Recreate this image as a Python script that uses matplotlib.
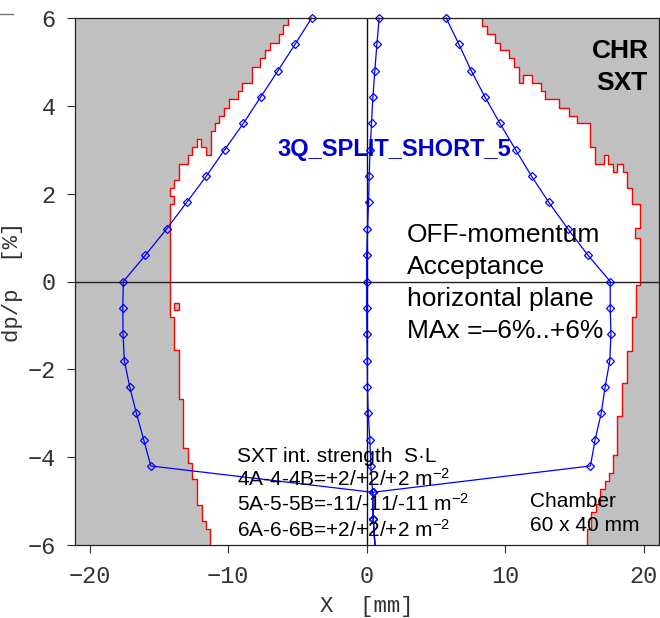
import matplotlib
matplotlib.use("Agg")
import matplotlib.pyplot as plt
from matplotlib.lines import Line2D
from matplotlib.patches import Polygon, Rectangle

# ---------------- data ----------------
dp_grid = [6.0, 5.4, 4.8, 4.2, 3.6, 3.0, 2.4, 1.8, 1.2, 0.6, 0.0, -0.6, -1.2,
           -1.8, -2.4, -3.0, -3.6, -4.2, -4.8, -5.4, -6.0]
x_left = [-3.97, -5.17, -6.40, -7.65, -8.90, -10.25, -11.57, -12.99, -14.43,
          -15.97, -17.56, -17.60, -17.58, -17.49, -17.10, -16.62, -16.09,
          -15.58, 0.43, 0.47, 0.60]
x_right = [5.74, 6.66, 7.55, 8.54, 9.62, 10.75, 11.90, 13.15, 14.52, 15.97,
           17.58, 17.58, 17.63, 17.55, 17.21, 16.93, 16.49, 16.15, 0.43, 0.47,
           0.60]
x_center = [0.90, 0.74, 0.59, 0.45, 0.35, 0.25, 0.18, 0.14, 0.06, 0.0, 0.0,
            0.0, 0.02, 0.04, 0.06, 0.11, 0.23, 0.30, 0.43, 0.47, 0.60]

# chamber acceptance boundary (staircase): x of each vertical run, dp break points
bound_left_x = [-5.68, -6.02, -6.33, -6.97, -7.32, -7.68, -8.30, -8.98, -9.29,
                -9.96, -10.30, -10.63, -10.97, -11.26, -11.59, -11.93, -12.22,
                -12.58, -12.87, -13.54, -13.88, -14.17, -13.88, -14.17, -13.90,
                -13.52, -13.23, -12.87, -12.58, -12.22, -11.90, -11.59, -11.31]
bound_left_dp = [6.0, 5.84, 5.63, 5.44, 5.26, 5.08, 4.89, 4.53, 4.34, 4.15,
                 3.95, 3.77, 3.60, 3.42, 2.87, 3.07, 3.24, 3.07, 2.87, 2.68,
                 2.31, 2.12, 1.95, 1.77, -0.81, -1.57, -2.68, -3.78, -4.14,
                 -4.49, -5.09, -5.45, -5.63, -6.0]
bound_right_x = [8.34, 8.66, 9.28, 9.62, 10.29, 10.63, 10.97, 11.30, 11.90,
                 12.55, 12.86, 13.90, 14.57, 15.19, 16.11, 16.47, 17.14, 17.39,
                 17.79, 18.08, 18.47, 18.76, 19.12, 19.74, 19.39, 19.74, 19.43,
                 19.18, 18.76, 18.42, 18.08, 17.79, 17.50, 17.22, 16.87, 16.54,
                 16.22, 15.87]
bound_right_dp = [6.0, 5.82, 5.64, 5.44, 5.26, 5.08, 4.89, 4.53, 4.70, 4.53,
                  4.34, 4.15, 3.95, 3.77, 3.60, 3.07, 2.67, 2.87, 2.67, 2.49,
                  2.67, 2.49, 2.12, 1.77, 1.21, 0.99, -0.08, -0.81, -1.58,
                  -2.31, -3.06, -3.96, -4.35, -4.54, -4.72, -5.06, -5.25, -5.63,
                  -6.0]
island_x = [-13.90, -13.52]
island_dp = [-0.65, -0.48]

x_ticks = [-20, -10, 0, 10, 20]
y_ticks = [-6, -4, -2, 0, 2, 4, 6]
x_range = [-21.05, 21.1]
y_range = [-6.0, 6.0]

title_lines = ["CHR", "SXT"]
lattice_name = "3Q_SPLIT_SHORT_5"
info_lines = ["OFF-momentum", "Acceptance", "horizontal plane",
              "MAx =\u20136%..+6%"]
sxt_lines = ["SXT int. strength  S\u00b7L",
             "4A-4-4B=+2/+2/+2 m$^{\\mathregular{-2}}$",
             "5A-5-5B=-11/-11/-11 m$^{\\mathregular{-2}}$",
             "6A-6-6B=+2/+2/+2 m$^{\\mathregular{-2}}$"]
chamber_lines = ["Chamber", "60 x 40 mm"]

# ---------------- style ----------------
plt.rcParams['mathtext.fontset'] = 'custom'
plt.rcParams['mathtext.rm'] = 'Liberation Sans'
plt.rcParams['mathtext.it'] = 'Liberation Sans:italic'
plt.rcParams['mathtext.bf'] = 'Liberation Sans:bold'
MONO = ['Liberation Mono', 'DejaVu Sans Mono']
SANS = ['Liberation Sans', 'DejaVu Sans']

fig = plt.figure(figsize=(6.6, 6.18), dpi=100)
ax = fig.add_axes([75 / 660, 1 - 545 / 618, 584 / 660, 527 / 618])
ax.set_xlim(x_range)
ax.set_ylim(y_range)


def stair(xs, ds):
    px, py = [], []
    for i, x in enumerate(xs):
        px += [x, x]
        py += [ds[i], ds[i + 1]]
    return px, py


lx, ly = stair(bound_left_x, bound_left_dp)
rx, ry = stair(bound_right_x, bound_right_dp)
gray = '#c0c0c0'
ax.add_patch(Polygon([(x_range[0], y_range[1])] + list(zip(lx, ly)) +
                     [(x_range[0], y_range[0])], closed=True, fc=gray,
                     ec='none', zorder=1))
ax.add_patch(Polygon([(x_range[1], y_range[1])] + list(zip(rx, ry)) +
                     [(x_range[1], y_range[0])], closed=True, fc=gray,
                     ec='none', zorder=1))
ax.plot(lx, ly, color='#ff0000', lw=1.0, zorder=2)
ax.plot(rx, ry, color='#ff0000', lw=1.0, zorder=2)
ax.add_patch(Rectangle((island_x[0], island_dp[0]), island_x[1] - island_x[0],
                       island_dp[1] - island_dp[0], fc=gray, ec='#ff0000',
                       lw=1.0, zorder=2))

ax.axhline(0, color='#222222', lw=1.0, zorder=3)
ax.axvline(0, color='#111111', lw=1.0, zorder=3)

for xs in (x_left, x_right, x_center):
    ax.plot(xs, dp_grid, color='#0000ff', lw=0.9, marker='D', ms=4.2,
            mfc='none', mec='#0000ff', mew=0.9, markevery=list(range(20)),
            zorder=4, clip_on=False)

# ---------------- axes decoration ----------------
ax.set_xticks(x_ticks)
ax.set_yticks(y_ticks)
ax.tick_params(axis='both', direction='out', length=5.8, width=0.8,
               colors='#333333', labelsize=17)
ax.tick_params(axis='x', pad=8.5)
ax.tick_params(axis='y', pad=8)
for lab in ax.get_xticklabels() + ax.get_yticklabels():
    lab.set_family(MONO)
for sp in ax.spines.values():
    sp.set_linewidth(0.9)
    sp.set_color('#222222')
    sp.set_zorder(5)

ax.set_xlabel("X  [mm]", family=MONO, fontsize=16, color='#333333')
ax.set_ylabel("dp/p  [%]", family=MONO, fontsize=16, color='#333333')
ax.xaxis.set_label_coords(0.5, -0.097)
ax.yaxis.set_label_coords(-0.089, 0.5)

# ---------------- annotations ----------------
ax.text(18.31, 5.08, title_lines[0], family=SANS, weight='bold', fontsize=19,
        ha='center', va='baseline', zorder=6)
ax.text(18.44, 4.36, title_lines[1], family=SANS, weight='bold', fontsize=19,
        ha='center', va='baseline', zorder=6)
ax.text(1.98, 2.86, lattice_name, family=SANS, weight='bold', fontsize=17,
        color='#0000cd', ha='center', va='baseline', zorder=6)
for t, y in zip(info_lines, [0.907, 0.173, -0.560, -1.29]):
    ax.text(2.93, y, t, family=SANS, fontsize=19, ha='left', va='baseline',
            zorder=6)
for t, y in zip(sxt_lines, [-4.10, -4.65, -5.22, -5.81]):
    ax.text(-9.38, y, t, family=SANS, fontsize=15, ha='left', va='baseline',
            zorder=6)
for t, y in zip(chamber_lines, [-5.125, -5.69]):
    ax.text(11.79, y, t, family=SANS, fontsize=15, ha='left', va='baseline',
            zorder=6)

fig.add_artist(Line2D([0.0, 12.5 / 660], [1 - 14 / 618] * 2, color='#777777',
                      lw=1.0))

fig.savefig("out.png", dpi=100)
